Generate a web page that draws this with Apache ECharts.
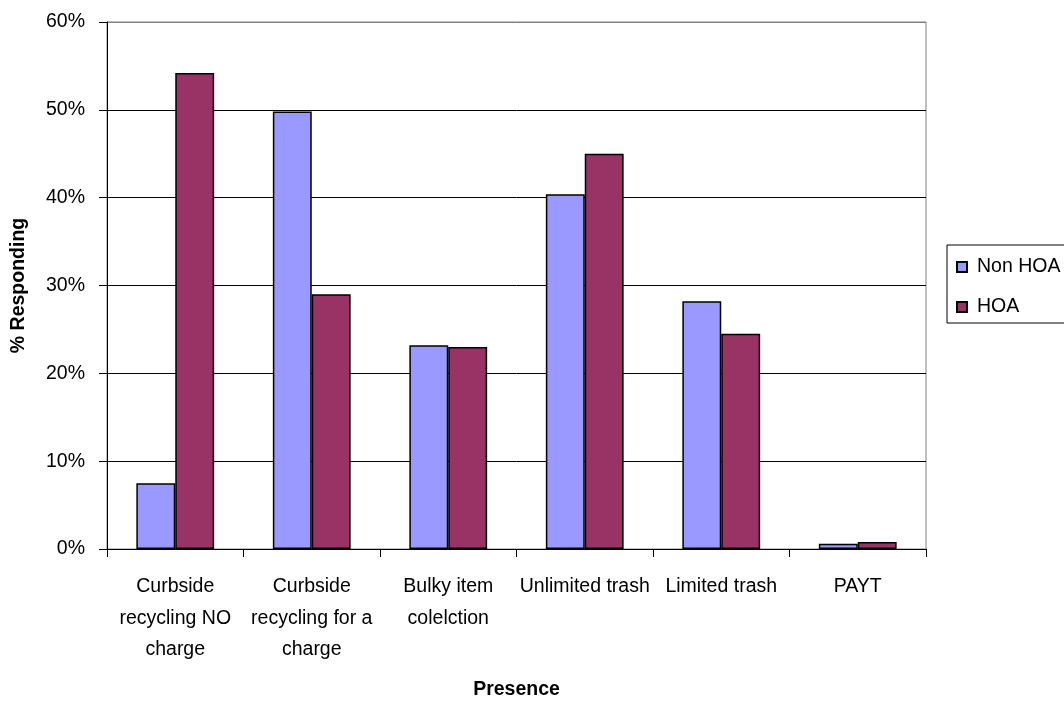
<!DOCTYPE html>
<html>
<head>
<meta charset="utf-8">
<script src="https://cdn.jsdelivr.net/npm/echarts@6/dist/echarts.min.js"></script>
<style>html,body{margin:0;padding:0;background:#fff;}#c{width:1064px;height:701px;}</style>
</head>
<body>
<div id="c"></div>
<script>
const categories = ['Curbside\nrecycling NO\ncharge', 'Curbside\nrecycling for a\ncharge', 'Bulky item\ncolelction', 'Unlimited trash', 'Limited trash', 'PAYT'];
const nonHOA = [0.075, 0.498, 0.232, 0.404, 0.282, 0.006];
const HOA = [0.542, 0.290, 0.230, 0.450, 0.245, 0.008];
const seriesNames = ['Non HOA', 'HOA'];
const yTicks = { min: 0, max: 0.6, interval: 0.1 };

const fam = '"Liberation Sans", Arial, sans-serif';
const fs = { tick: 19.5, cat: 19.5, legend: 19.5, title: 19.5 };

const chart = echarts.init(document.getElementById('c'), null, { renderer: 'canvas' });
chart.setOption({
  animation: false,
  backgroundColor: '#fff',
  textStyle: { fontFamily: fam, color: '#000' },
  grid: { left: 107, right: 138, top: 22, bottom: 152, show: true, borderColor: '#808080', borderWidth: 1, containLabel: false, outerBoundsMode: 'none' },
  legend: {
    orient: 'vertical',
    left: 947, top: 245,
    padding: [11, 14, 5, 9],
    itemGap: 18,
    itemWidth: 10, itemHeight: 10,
    icon: 'rect',
    borderColor: '#000', borderWidth: 1,
    backgroundColor: '#fff',
    textStyle: { fontFamily: fam, fontSize: fs.legend, lineHeight: 22, color: '#000', padding: [0, 0, 0, 5] },
    data: seriesNames
  },
  xAxis: {
    type: 'category',
    data: categories,
    name: 'Presence',
    nameLocation: 'middle',
    nameGap: 131,
    nameTextStyle: { fontFamily: fam, fontSize: fs.title, fontWeight: 'bold', color: '#000' },
    axisLine: { lineStyle: { color: '#000', width: 1 } },
    axisTick: { show: true, alignWithLabel: false, length: 8, lineStyle: { color: '#000' } },
    axisLabel: { interval: 0, margin: 22, fontSize: fs.cat, lineHeight: 31.5, color: '#000', fontFamily: fam, align: 'center' },
    splitLine: { show: false }
  },
  yAxis: {
    type: 'value',
    min: yTicks.min, max: yTicks.max, interval: yTicks.interval,
    name: '% Responding',
    nameLocation: 'middle',
    nameGap: 78,
    nameTextStyle: { fontFamily: fam, fontSize: fs.title, fontWeight: 'bold', color: '#000' },
    axisLine: { show: true, lineStyle: { color: '#000', width: 1 } },
    axisTick: { show: true, length: 8, lineStyle: { color: '#000' } },
    axisLabel: { margin: 22, fontSize: fs.tick, color: '#000', fontFamily: fam, formatter: v => Math.round(v * 100) + '%' },
    splitLine: { show: true, lineStyle: { color: ['#000', '#000', '#000', '#000', '#000', '#000', '#808080'], width: 1 } }
  },
  series: [
    { name: seriesNames[0], type: 'bar', data: nonHOA, barGap: '0%', barCategoryGap: '43%',
      itemStyle: { color: '#9999FF', borderColor: '#000', borderWidth: 1.5 } },
    { name: seriesNames[1], type: 'bar', data: HOA, barGap: '0%', barCategoryGap: '43%',
      itemStyle: { color: '#993366', borderColor: '#000', borderWidth: 1.5 } }
  ]
});
</script>
</body>
</html>
